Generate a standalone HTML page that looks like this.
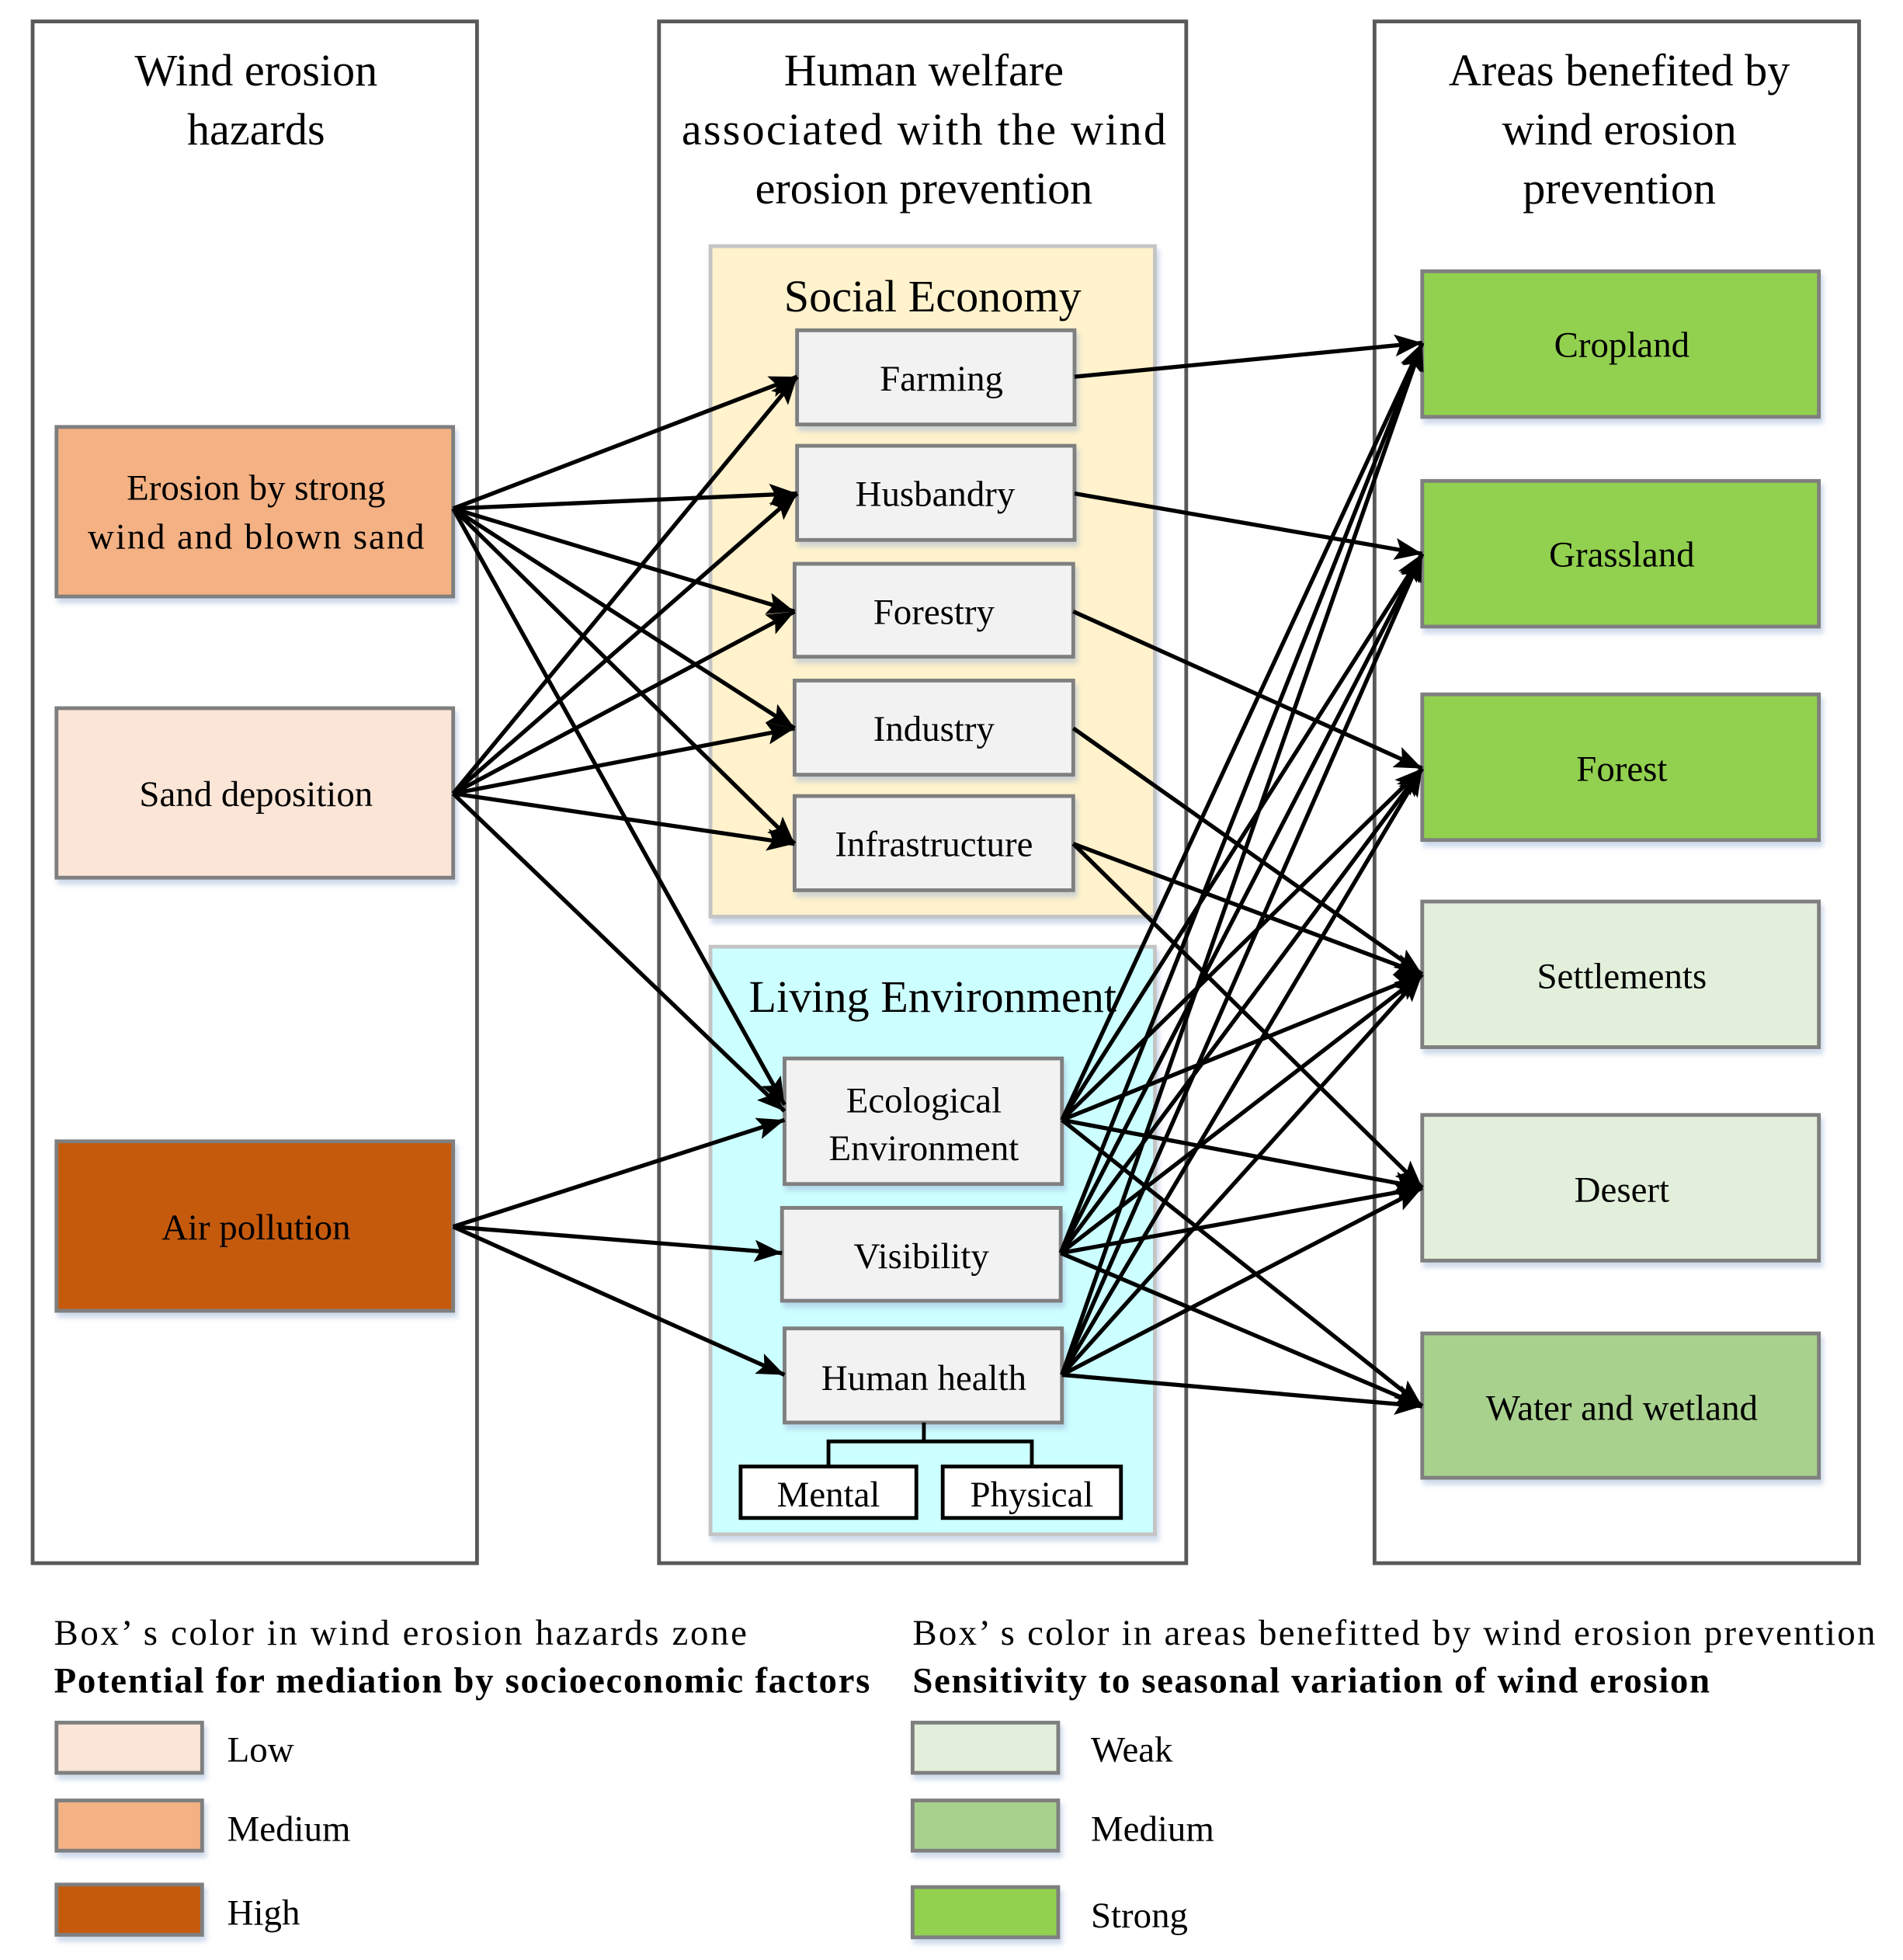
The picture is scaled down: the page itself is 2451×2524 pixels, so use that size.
<!DOCTYPE html>
<html><head><meta charset="utf-8"><style>html,body{margin:0;padding:0;background:#fff}svg{display:block}text{font-family:"Liberation Serif",serif;fill:#000}</style></head><body>
<svg width="2451" height="2524" viewBox="0 0 1516 1561" xmlns="http://www.w3.org/2000/svg">
<defs>
<marker id="b" viewBox="0 0 10 10" refX="10" refY="5" markerWidth="22" markerHeight="22" markerUnits="userSpaceOnUse" orient="auto"><path d="M0,1 L10,5 L0,9 L2,5 Z" fill="#000"/></marker>
<filter id="s" x="-5%" y="-5%" width="115%" height="120%"><feDropShadow dx="2" dy="4" stdDeviation="2" flood-color="#9bb3d6" flood-opacity="0.5"/></filter>
</defs>
<g fill="#fff" stroke="#595959" stroke-width="3">
<rect x="26" y="17" width="354" height="1228"/>
<rect x="525" y="17" width="420" height="1228"/>
<rect x="1095" y="17" width="386" height="1228"/>
</g>
<g font-size="36" text-anchor="middle">
<text x="204" y="68">Wind erosion</text><text x="204" y="115">hazards</text>
<text x="736" y="68">Human welfare</text><text x="736" y="115" textLength="386" lengthAdjust="spacing">associated with the wind</text><text x="736" y="162">erosion prevention</text>
<text x="1290" y="68">Areas benefited by</text><text x="1290" y="115">wind erosion</text><text x="1290" y="162">prevention</text>
</g>
<rect x="566" y="196" width="354" height="534" fill="#fff2cc" stroke="#c4c4c4" stroke-width="3" filter="url(#s)"/>
<rect x="566" y="754" width="354" height="468" fill="#ccffff" stroke="#c4c4c4" stroke-width="3" filter="url(#s)"/>
<text x="743" y="248" font-size="36" text-anchor="middle">Social Economy</text>
<text x="743" y="806" font-size="36" text-anchor="middle">Living Environment</text>
<g stroke="#7f7f7f" stroke-width="3" filter="url(#s)">
<rect x="635" y="263" width="221" height="75" fill="#f2f2f2"/>
<rect x="635" y="355" width="221" height="75" fill="#f2f2f2"/>
<rect x="633" y="449" width="222" height="74" fill="#f2f2f2"/>
<rect x="633" y="542" width="222" height="75" fill="#f2f2f2"/>
<rect x="633" y="634" width="222" height="75" fill="#f2f2f2"/>
<rect x="625" y="843" width="221" height="100" fill="#f2f2f2"/>
<rect x="623" y="962" width="222" height="74" fill="#f2f2f2"/>
<rect x="625" y="1058" width="221" height="75" fill="#f2f2f2"/>
<rect x="45" y="340" width="316" height="135" fill="#f4b183"/>
<rect x="45" y="564" width="316" height="135" fill="#fbe5d6"/>
<rect x="45" y="909" width="316" height="135" fill="#c55a11"/>
<rect x="1133" y="216" width="316" height="116" fill="#92d050"/>
<rect x="1133" y="383" width="316" height="116" fill="#92d050"/>
<rect x="1133" y="553" width="316" height="116" fill="#92d050"/>
<rect x="1133" y="718" width="316" height="116" fill="#e2efda"/>
<rect x="1133" y="888" width="316" height="116" fill="#e2efda"/>
<rect x="1133" y="1062" width="316" height="115" fill="#a9d18e"/>
<rect x="45" y="1372" width="116" height="40" fill="#fbe5d6"/>
<rect x="45" y="1434" width="116" height="40" fill="#f4b183"/>
<rect x="45" y="1501" width="116" height="40" fill="#c55a11"/>
<rect x="727" y="1372" width="116" height="40" fill="#e2efda"/>
<rect x="727" y="1434" width="116" height="40" fill="#a9d18e"/>
<rect x="727" y="1503" width="116" height="40" fill="#92d050"/>
</g>
<g fill="#fff" stroke="#000" stroke-width="3">
<rect x="590" y="1168" width="140" height="41"/><rect x="751" y="1168" width="142" height="41"/>
</g>
<path d="M736,1133 V1148 M660,1168 V1148 H822 V1168" fill="none" stroke="#000" stroke-width="3"/>
<g font-size="29" text-anchor="middle">
<text x="750" y="311">Farming</text>
<text x="745" y="403">Husbandry</text>
<text x="744" y="497">Forestry</text>
<text x="744" y="590">Industry</text>
<text x="744" y="682">Infrastructure</text>
<text x="736" y="886">Ecological</text><text x="736" y="924">Environment</text>
<text x="734" y="1010">Visibility</text>
<text x="736" y="1107">Human health</text>
<text x="660" y="1200">Mental</text><text x="822" y="1200">Physical</text>
<text x="204" y="398">Erosion by strong</text><text x="204" y="437" textLength="268" lengthAdjust="spacing">wind and blown sand</text>
<text x="204" y="642">Sand deposition</text>
<text x="204" y="987">Air pollution</text>
<text x="1292" y="284">Cropland</text>
<text x="1292" y="451">Grassland</text>
<text x="1292" y="622">Forest</text>
<text x="1292" y="787">Settlements</text>
<text x="1292" y="957">Desert</text>
<text x="1292" y="1131">Water and wetland</text>
</g>
<g font-size="29">
<text x="43" y="1310" textLength="552" lengthAdjust="spacing">Box’ s  color in wind erosion hazards zone</text>
<text x="43" y="1348" font-weight="bold" textLength="650" lengthAdjust="spacing">Potential for mediation by socioeconomic factors</text>
<text x="181" y="1403">Low</text><text x="181" y="1466">Medium</text><text x="181" y="1533">High</text>
<text x="727" y="1310" textLength="767" lengthAdjust="spacing">Box’ s  color in areas benefitted by wind erosion prevention</text>
<text x="727" y="1348" font-weight="bold" textLength="635" lengthAdjust="spacing">Sensitivity to seasonal variation of wind erosion</text>
<text x="869" y="1403">Weak</text><text x="869" y="1466">Medium</text><text x="869" y="1535">Strong</text>
</g>
<g stroke="#000" stroke-width="3.3" fill="none" marker-end="url(#b)">
<path d="M361,405 L635,300"/><path d="M361,405 L635,393"/><path d="M361,405 L633,487"/><path d="M361,405 L633,580"/><path d="M361,405 L633,672"/><path d="M361,405 L625,880"/>
<path d="M361,632 L635,300"/><path d="M361,632 L635,393"/><path d="M361,632 L633,487"/><path d="M361,632 L633,580"/><path d="M361,632 L633,672"/><path d="M361,632 L625,885"/>
<path d="M361,977 L625,892"/><path d="M361,977 L623,998"/><path d="M361,977 L625,1095"/>
<path d="M856,300 L1133,273"/><path d="M856,393 L1133,441"/><path d="M855,487 L1133,612"/><path d="M855,580 L1133,776"/><path d="M855,672 L1133,776"/><path d="M855,672 L1133,946"/>
<path d="M846,892 L1133,273"/><path d="M846,892 L1133,441"/><path d="M846,892 L1133,612"/><path d="M846,892 L1133,776"/><path d="M846,892 L1133,946"/><path d="M846,892 L1133,1120"/>
<path d="M845,998 L1133,273"/><path d="M845,998 L1133,441"/><path d="M845,998 L1133,612"/><path d="M845,998 L1133,776"/><path d="M845,998 L1133,946"/><path d="M845,998 L1133,1120"/>
<path d="M846,1095 L1133,273"/><path d="M846,1095 L1133,441"/><path d="M846,1095 L1133,612"/><path d="M846,1095 L1133,776"/><path d="M846,1095 L1133,946"/><path d="M846,1095 L1133,1120"/>
</g>
</svg>
</body></html>
